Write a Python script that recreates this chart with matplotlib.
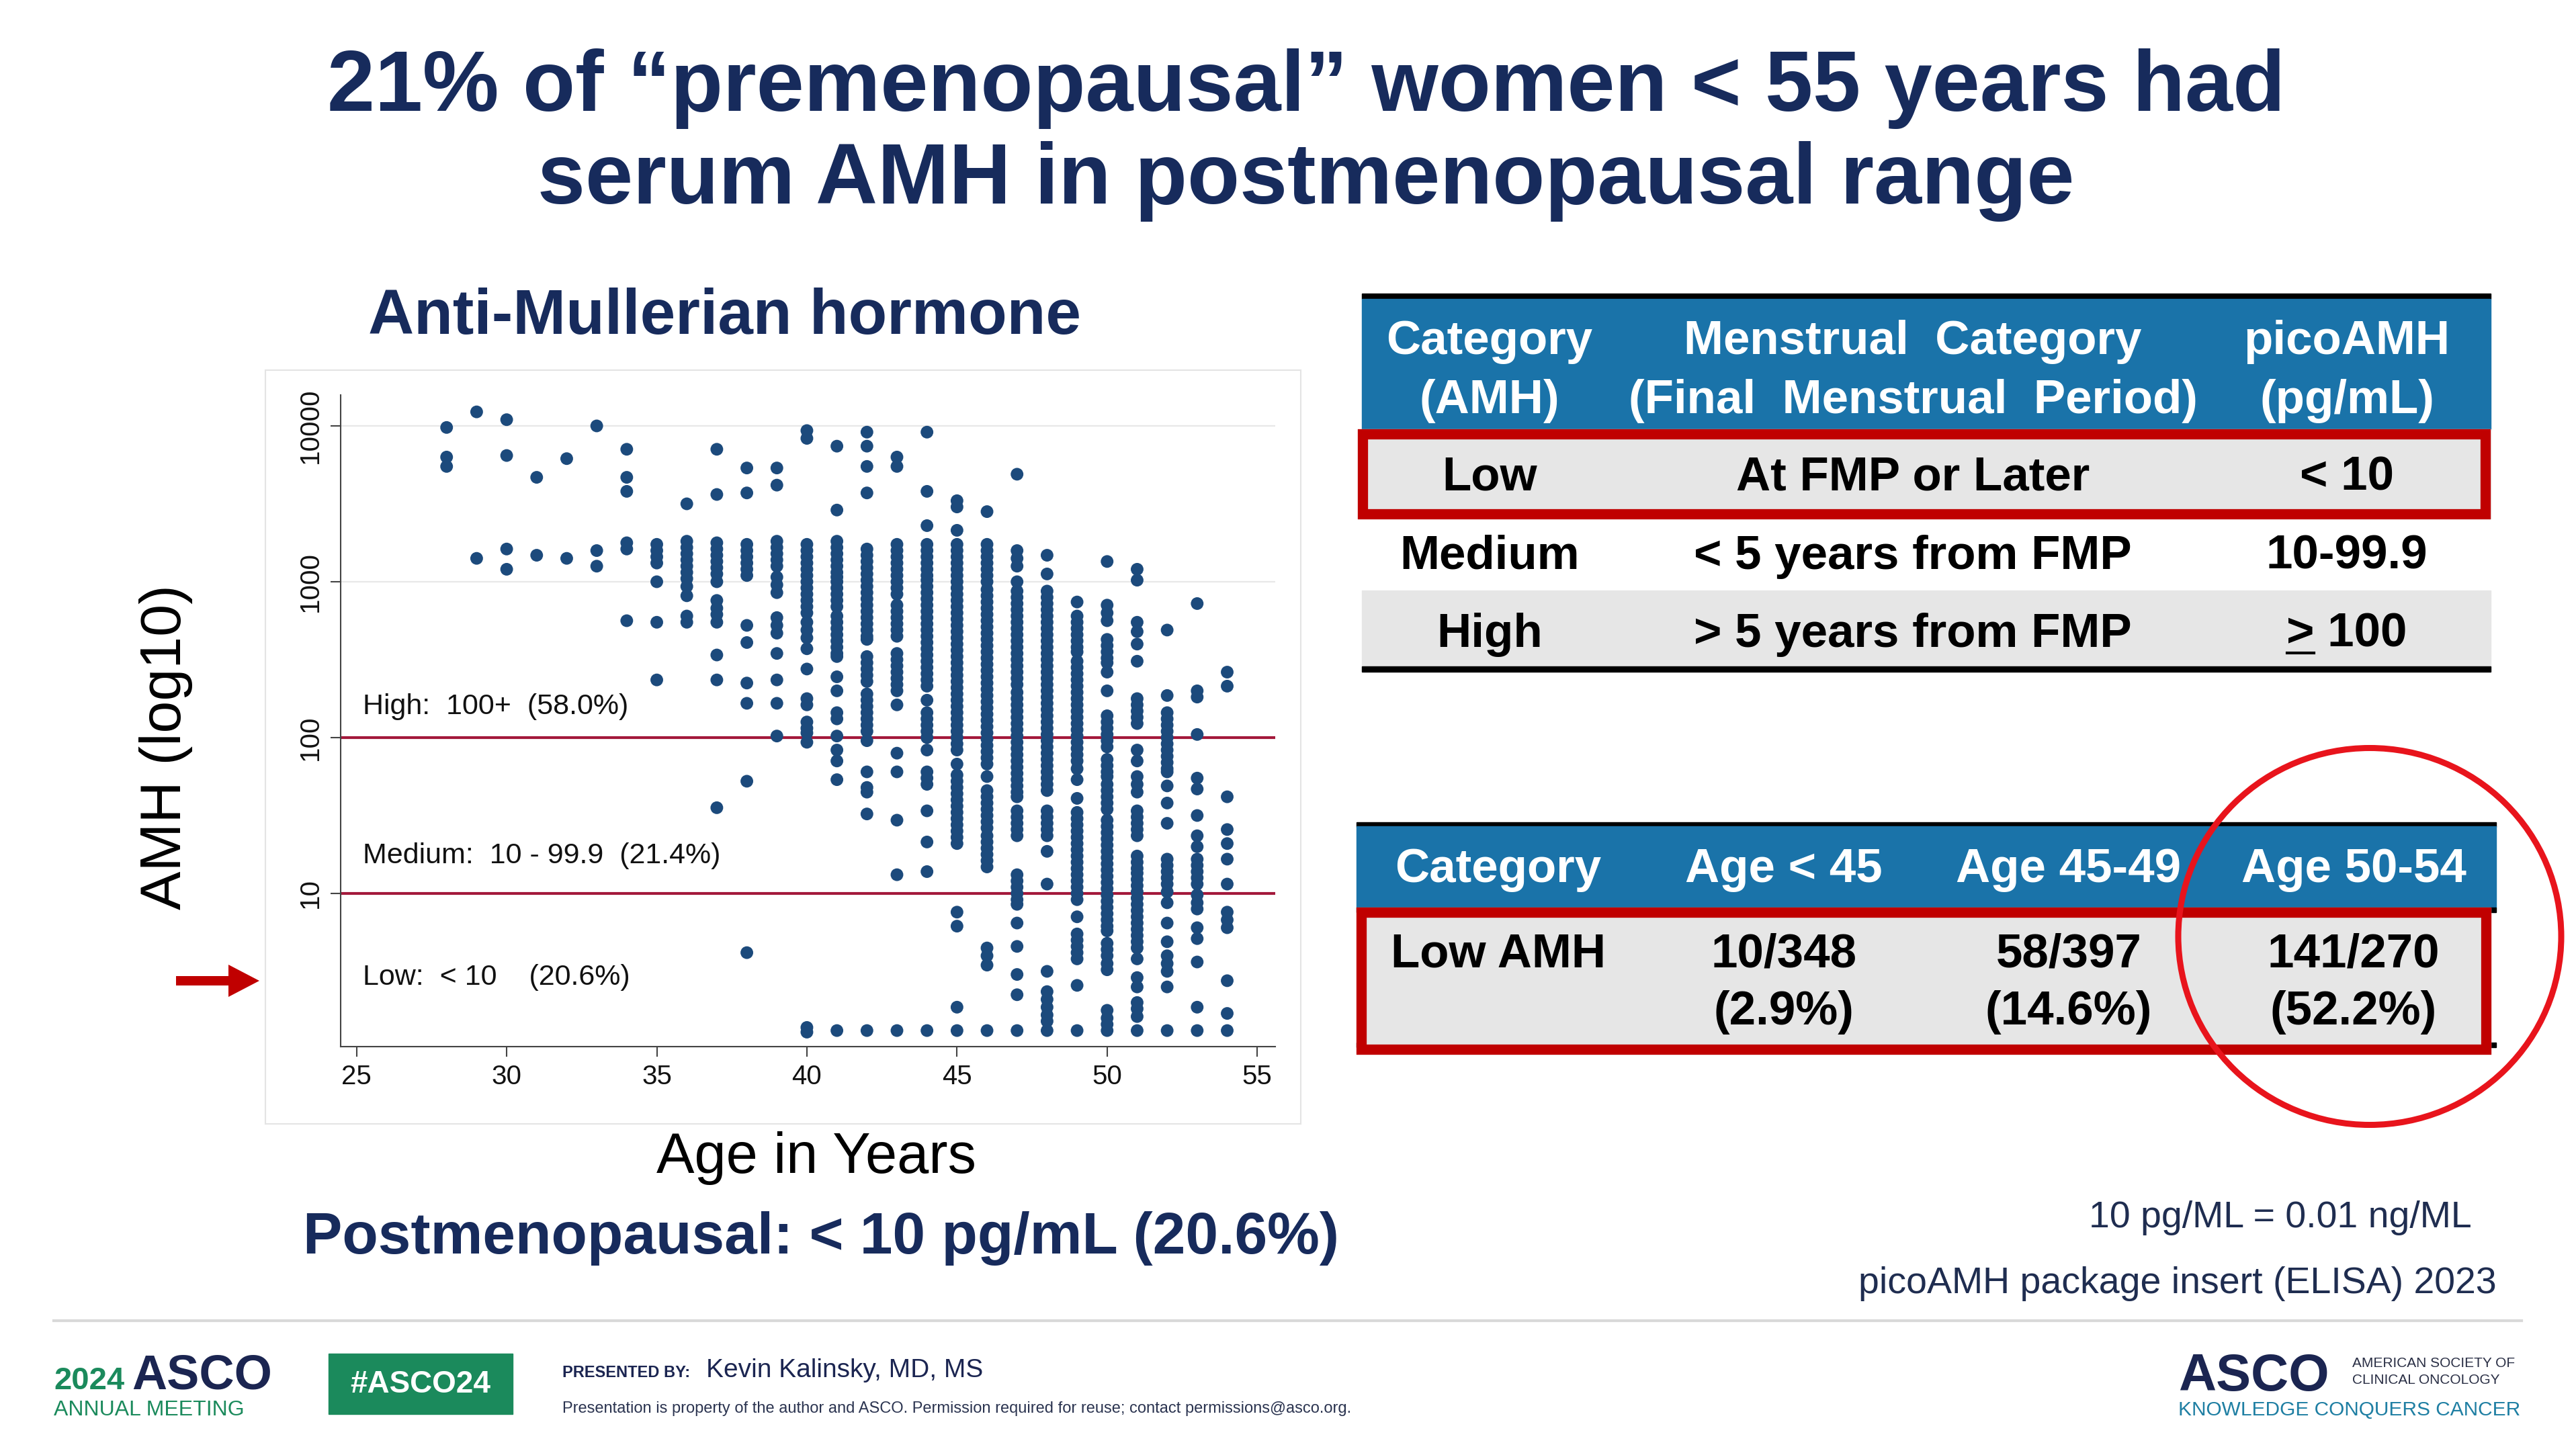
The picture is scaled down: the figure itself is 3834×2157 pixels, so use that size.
import numpy as np
import matplotlib.pyplot as plt
from matplotlib.patches import Rectangle, Ellipse, FancyArrow
from matplotlib.ticker import NullLocator

plt.rcParams['font.family'] = ['Liberation Sans', 'DejaVu Sans']

# log10 AMH (pg/mL) for each single year of age
log_amh_28 = [3.99, 3.80, 3.74]
log_amh_29 = [4.09, 3.15]
log_amh_30 = [4.04, 3.81, 3.21, 3.08]
log_amh_31 = [3.67, 3.17]
log_amh_32 = [3.79, 3.15]
log_amh_33 = [4.00, 3.20, 3.10]
log_amh_34 = [3.85, 3.67, 3.58, 3.25, 3.21, 2.75]
log_amh_35 = [3.24, 3.20, 3.16, 3.12, 3.00, 2.74, 2.37]
log_amh_36 = [3.50, 3.26, 3.22, 3.18, 3.14, 3.10, 3.06, 3.02, 2.97, 2.91, 2.78, 2.74]
log_amh_37 = [3.85, 3.56, 3.25, 3.21, 3.17, 3.13, 3.09, 3.05, 3.00, 2.88, 2.83, 2.79,
              2.74, 2.53, 2.37, 1.55]
log_amh_38 = [3.73, 3.57, 3.24, 3.20, 3.16, 3.12, 3.08, 3.04, 2.72, 2.61, 2.35, 2.22,
              1.72, 0.62]
log_amh_39 = [3.73, 3.62, 3.26, 3.22, 3.18, 3.14, 3.10, 3.03, 2.98, 2.93, 2.77, 2.72,
              2.67, 2.54, 2.37, 2.22, 2.01]
log_amh_40 = [3.97, 3.92, 3.24, 3.20, 3.16, 3.12, 3.08, 3.04, 3.00, 2.96, 2.92, 2.88,
              2.84, 2.80, 2.74, 2.69, 2.64, 2.57, 2.44, 2.25, 2.21, 2.10, 2.06, 2.03,
              1.97, 0.14, 0.11]
log_amh_41 = [3.87, 3.46, 3.26, 3.22, 3.18, 3.14, 3.10, 3.06, 3.03, 3.00, 2.96, 2.92,
              2.88, 2.84, 2.78, 2.74, 2.70, 2.66, 2.62, 2.58, 2.54, 2.52, 2.39, 2.30,
              2.16, 2.12, 2.01, 1.92, 1.85, 1.73, 0.12]
log_amh_42 = [3.96, 3.87, 3.74, 3.57, 3.21, 3.17, 3.13, 3.09, 3.05, 3.01, 2.97, 2.93,
              2.89, 2.85, 2.81, 2.77, 2.73, 2.69, 2.65, 2.63, 2.52, 2.48, 2.44, 2.40,
              2.36, 2.28, 2.24, 2.20, 2.16, 2.12, 2.08, 2.04, 1.98, 1.78, 1.68, 1.65,
              1.51, 0.12]
log_amh_43 = [3.80, 3.74, 3.24, 3.20, 3.16, 3.12, 3.08, 3.04, 3.00, 2.96, 2.92, 2.85,
              2.81, 2.77, 2.73, 2.69, 2.65, 2.54, 2.50, 2.46, 2.42, 2.38, 2.34, 2.30,
              2.21, 1.90, 1.78, 1.47, 1.12, 0.12]
log_amh_44 = [3.96, 3.58, 3.36, 3.24, 3.20, 3.16, 3.12, 3.08, 3.04, 3.01, 2.97, 2.93,
              2.89, 2.85, 2.81, 2.77, 2.73, 2.69, 2.65, 2.61, 2.57, 2.53, 2.49, 2.45,
              2.41, 2.37, 2.33, 2.24, 2.16, 2.12, 2.08, 2.04, 2.00, 1.92, 1.78, 1.74,
              1.70, 1.53, 1.33, 1.14, 0.12]
log_amh_45 = [3.52, 3.48, 3.33, 3.24, 3.20, 3.16, 3.12, 3.08, 3.04, 3.00, 2.96, 2.92,
              2.88, 2.84, 2.80, 2.76, 2.72, 2.68, 2.64, 2.60, 2.56, 2.52, 2.48, 2.44,
              2.40, 2.36, 2.32, 2.28, 2.24, 2.20, 2.16, 2.12, 2.08, 2.04, 2.00, 1.96,
              1.92, 1.83, 1.76, 1.72, 1.68, 1.64, 1.60, 1.56, 1.52, 1.48, 1.44, 1.40,
              1.36, 1.32, 0.88, 0.79, 0.27, 0.12]
log_amh_46 = [3.45, 3.24, 3.20, 3.16, 3.12, 3.08, 3.04, 3.00, 2.95, 2.91, 2.87, 2.83,
              2.79, 2.75, 2.71, 2.67, 2.63, 2.59, 2.55, 2.51, 2.47, 2.43, 2.39, 2.35,
              2.31, 2.27, 2.23, 2.19, 2.15, 2.11, 2.07, 2.03, 1.99, 1.95, 1.91, 1.87,
              1.83, 1.75, 1.66, 1.62, 1.58, 1.54, 1.50, 1.46, 1.42, 1.37, 1.33, 1.29,
              1.25, 1.21, 1.17, 0.65, 0.60, 0.54, 0.12]
log_amh_47 = [3.69, 3.20, 3.15, 3.10, 3.00, 2.94, 2.90, 2.86, 2.82, 2.78, 2.74, 2.70,
              2.66, 2.62, 2.58, 2.54, 2.50, 2.46, 2.42, 2.38, 2.34, 2.29, 2.25, 2.21,
              2.17, 2.13, 2.09, 2.05, 2.01, 1.97, 1.93, 1.89, 1.85, 1.81, 1.77, 1.73,
              1.69, 1.65, 1.62, 1.53, 1.49, 1.45, 1.41, 1.37, 1.12, 1.08, 1.04, 1.00,
              0.96, 0.93, 0.81, 0.66, 0.48, 0.35, 0.12]
log_amh_48 = [3.17, 3.05, 2.94, 2.90, 2.86, 2.82, 2.78, 2.74, 2.70, 2.66, 2.62, 2.58,
              2.54, 2.50, 2.46, 2.42, 2.38, 2.34, 2.30, 2.26, 2.22, 2.18, 2.14, 2.10,
              2.06, 2.02, 1.98, 1.94, 1.90, 1.86, 1.82, 1.78, 1.74, 1.70, 1.66, 1.53,
              1.49, 1.45, 1.41, 1.37, 1.27, 1.06, 0.50, 0.37, 0.32, 0.27, 0.22, 0.18,
              0.12]
log_amh_49 = [2.87, 2.78, 2.74, 2.70, 2.66, 2.62, 2.58, 2.55, 2.49, 2.45, 2.41, 2.37,
              2.33, 2.29, 2.25, 2.21, 2.17, 2.13, 2.09, 2.05, 2.01, 1.97, 1.93, 1.89,
              1.85, 1.80, 1.73, 1.61, 1.52, 1.48, 1.44, 1.40, 1.36, 1.32, 1.28, 1.24,
              1.20, 1.16, 1.12, 1.08, 1.04, 1.00, 0.96, 0.85, 0.74, 0.70, 0.66, 0.62,
              0.58, 0.41, 0.12]
log_amh_50 = [3.13, 2.85, 2.80, 2.75, 2.63, 2.59, 2.55, 2.51, 2.48, 2.42, 2.30, 2.14,
              2.10, 2.06, 2.02, 1.98, 1.94, 1.86, 1.82, 1.78, 1.75, 1.70, 1.66, 1.62,
              1.58, 1.54, 1.47, 1.43, 1.39, 1.35, 1.31, 1.27, 1.23, 1.19, 1.15, 1.11,
              1.07, 1.03, 0.99, 0.95, 0.91, 0.87, 0.83, 0.79, 0.76, 0.68, 0.64, 0.60,
              0.55, 0.51, 0.25, 0.20, 0.16, 0.12]
log_amh_51 = [3.08, 3.01, 2.74, 2.68, 2.60, 2.49, 2.25, 2.21, 2.17, 2.13, 2.09, 1.92,
              1.85, 1.75, 1.70, 1.65, 1.53, 1.49, 1.45, 1.41, 1.37, 1.24, 1.20, 1.16,
              1.13, 1.09, 1.05, 1.01, 0.97, 0.93, 0.89, 0.85, 0.81, 0.77, 0.73, 0.69,
              0.65, 0.58, 0.46, 0.40, 0.30, 0.26, 0.21, 0.12]
log_amh_52 = [2.69, 2.27, 2.16, 2.12, 2.08, 2.04, 2.00, 1.96, 1.92, 1.88, 1.84, 1.80,
              1.78, 1.69, 1.58, 1.45, 1.22, 1.18, 1.14, 1.10, 1.06, 1.01, 0.94, 0.81,
              0.69, 0.60, 0.55, 0.50, 0.40, 0.12]
log_amh_53 = [2.86, 2.30, 2.26, 2.02, 1.74, 1.67, 1.50, 1.37, 1.30, 1.22, 1.18, 1.14,
              1.10, 1.06, 0.99, 0.94, 0.90, 0.78, 0.71, 0.56, 0.27, 0.12]
log_amh_54 = [2.42, 2.33, 1.62, 1.41, 1.32, 1.22, 1.06, 0.88, 0.83, 0.78, 0.44, 0.23,
              0.12]

ages = list(range(28, 55))
log_amh = [log_amh_28, log_amh_29, log_amh_30, log_amh_31, log_amh_32, log_amh_33,
           log_amh_34, log_amh_35, log_amh_36, log_amh_37, log_amh_38, log_amh_39,
           log_amh_40, log_amh_41, log_amh_42, log_amh_43, log_amh_44, log_amh_45,
           log_amh_46, log_amh_47, log_amh_48, log_amh_49, log_amh_50, log_amh_51,
           log_amh_52, log_amh_53, log_amh_54]

# category cut-offs (pg/mL) and their labels
cutoffs = [10, 100]
band_labels = ["High:  100+  (58.0%)", "Medium:  10 - 99.9  (21.4%)", "Low:  < 10    (20.6%)"]
band_label_at = [158, 17.5, 2.9]

y_ticks = [10, 100, 1000, 10000]
x_ticks = [25, 30, 35, 40, 45, 50, 55]

# tables
tbl1_head_1 = ["Category", "Menstrual  Category", "picoAMH"]
tbl1_head_2 = ["(AMH)", "(Final  Menstrual  Period)", "(pg/mL)"]
tbl1_rows = [["Low", "At FMP or Later", "< 10"],
             ["Medium", "< 5 years from FMP", "10-99.9"],
             ["High", "> 5 years from FMP", "> 100"]]
tbl2_head = ["Category", "Age < 45", "Age 45-49", "Age 50-54"]
low_amh_counts = ["10/348", "58/397", "141/270"]
low_amh_pct = ["(2.9%)", "(14.6%)", "(52.2%)"]

NAVY = '#172b5c'
DOT = '#1c4a7c'
RED = '#c00000'
BLUE = '#1a73a9'
GREY = '#e6e6e6'

W, H = 3834, 2157
PX = 100 / 72

fig = plt.figure(figsize=(W / 100, H / 100), dpi=100)
bg = fig.add_axes([0, 0, 1, 1])
bg.set_xlim(0, W)
bg.set_ylim(H, 0)
bg.axis('off')


def cap_text(x, y, s, size, **kw):
    # y = middle of the capitals, in slide pixels
    bg.text(x, y + 0.36 * size * PX, s, fontsize=size, va='baseline', **kw)


# titles
cap_text(1944, 119, "21% of \u201cpremenopausal\u201d women < 55 years had", 92,
         ha='center', color=NAVY, weight='bold')
cap_text(1944, 257, "serum AMH in postmenopausal range", 92,
         ha='center', color=NAVY, weight='bold')
cap_text(1078, 463, "Anti-Mullerian hormone", 68, ha='center', color=NAVY, weight='bold')
cap_text(1222, 1834, "Postmenopausal: < 10 pg/mL (20.6%)", 63, ha='center',
         color=NAVY, weight='bold')

# scatter panel frame
bg.add_patch(Rectangle((395, 551), 1541, 1122, fill=False, ec='#e4e4e4', lw=1.5))

ax = fig.add_axes([507 / W, 1 - 1558 / H, (1898 - 507) / W, (1558 - 587.6) / H])
x = np.concatenate([[a] * len(v) for a, v in zip(ages, log_amh)])
y = 10 ** np.concatenate(log_amh)
ax.scatter(x, y, s=185, color=DOT, edgecolors='none', zorder=3)
ax.set_yscale('log')
ax.set_xlim(24.47, 55.6)
ax.set_ylim(10 ** 0.017, 10 ** 4.2)
for g in [1000, 10000]:
    ax.axhline(g, color='#e8e8e8', lw=1.6, zorder=1)
for c in cutoffs:
    ax.axhline(c, color='#a3193b', lw=3, zorder=2)
for lab, yy in zip(band_labels, band_label_at):
    ax.text(25.2, yy, lab, fontsize=31, va='center', color='#111111')

ax.set_yticks(y_ticks)
ax.set_yticklabels([str(t) for t in y_ticks], rotation=90, va='center')
ax.yaxis.set_minor_locator(NullLocator())
ax.set_xticks(x_ticks)
ax.tick_params(length=11, width=1.5, color='#444444', labelsize=29, pad=8,
               labelcolor='#111111')
for side in ['top', 'right']:
    ax.spines[side].set_visible(False)
for side in ['left', 'bottom']:
    ax.spines[side].set_color('#444444')
    ax.spines[side].set_linewidth(1.5)
ax.set_facecolor('none')

bg.text(247, 1112, "AMH (log10)", fontsize=62, rotation=90, ha='center', va='center')
cap_text(1215, 1716, "Age in Years", 61, ha='center')

bg.add_patch(FancyArrow(262, 1460, 124, 0, width=14, head_width=48, head_length=46,
                        length_includes_head=True, color=RED, lw=0))

# table 1
bg.add_patch(Rectangle((2027, 437), 1680, 8, color='black'))
bg.add_patch(Rectangle((2027, 445), 1680, 195, color=BLUE))
bg.add_patch(Rectangle((2021, 639), 1686, 133, color=GREY))
bg.add_patch(Rectangle((2028, 646), 1671, 119, fill=False, ec=RED, lw=11))
bg.add_patch(Rectangle((2027, 879), 1680, 113, color=GREY))
bg.add_patch(Rectangle((2027, 992), 1680, 8, color='black'))
col1 = [2217, 2847, 3493]
for cx, h1, h2 in zip(col1, tbl1_head_1, tbl1_head_2):
    cap_text(cx, 502, h1, 51, ha='center', color='white', weight='bold')
    cap_text(cx, 590, h2, 51, ha='center', color='white', weight='bold')
for ry, row in zip([704, 821, 937], tbl1_rows):
    for cx, s in zip(col1, row):
        cap_text(cx, ry, s, 51, ha='center', color='black', weight='bold')
bg.plot([3404, 3444], [972, 972], color='black', lw=3)

# table 2
bg.add_patch(Rectangle((2019, 1224), 1696, 7, color='black'))
bg.add_patch(Rectangle((2019, 1230), 1696, 121, color=BLUE))
bg.add_patch(Rectangle((2019, 1351), 1696, 7, color='black'))
bg.add_patch(Rectangle((2019, 1552), 1696, 7, color='black'))
bg.add_patch(Rectangle((2019, 1351), 1688, 218, color=GREY))
bg.add_patch(Rectangle((2026, 1358), 1674, 204, fill=False, ec=RED, lw=11))
col2 = [2230, 2655, 3079, 3503]
for cx, s in zip(col2, tbl2_head):
    cap_text(cx, 1288, s, 51, ha='center', color='white', weight='bold')
cap_text(col2[0], 1414, "Low AMH", 51, ha='center', weight='bold')
for cx, n, p in zip(col2[1:], low_amh_counts, low_amh_pct):
    cap_text(cx, 1414, n, 51, ha='center', weight='bold')
    cap_text(cx, 1500, p, 51, ha='center', weight='bold')

bg.add_patch(Ellipse((3527, 1394), 570, 561, fill=False, ec='#e8141c', lw=6.5))

cap_text(3394, 1807, "10 pg/ML = 0.01 ng/ML", 40, ha='center', color='#1f2d50')
cap_text(3241, 1905, "picoAMH package insert (ELISA) 2023", 40, ha='center', color='#1f2d50')

# footer
bg.plot([80, 3753], [1966, 1966], color='#d9d9d9', lw=3)
GREEN = '#1b8a5c'
bg.text(80, 2068, "2024", fontsize=34, weight='bold', color=GREEN, va='baseline')
bg.text(196, 2068, "ASCO", fontsize=52, weight='bold', color='#1b2551', va='baseline')
bg.text(80, 2107, "ANNUAL MEETING", fontsize=23, color=GREEN, va='baseline')
bg.add_patch(Rectangle((489, 2015), 274, 90, color=GREEN))
bg.text(626, 2061, "#ASCO24", fontsize=33, weight='bold', color='white',
        ha='center', va='center')
bg.text(837, 2050, "PRESENTED BY:", fontsize=17, weight='bold', color='#1b2551',
        va='baseline')
bg.text(1051, 2050, "Kevin Kalinsky, MD, MS", fontsize=28, color='#1b2551', va='baseline')
bg.text(837, 2103, "Presentation is property of the author and ASCO. Permission required "
        "for reuse; contact permissions@asco.org.", fontsize=17, color='#2b3450',
        va='baseline')
bg.text(3242, 2070, "ASCO", fontsize=56, weight='bold', color='#1b2551', va='baseline')
bg.text(3501, 2035, "AMERICAN SOCIETY OF", fontsize=15, color='#2a2f45', va='baseline')
bg.text(3501, 2060, "CLINICAL ONCOLOGY", fontsize=15, color='#2a2f45', va='baseline')
bg.text(3242, 2107, "KNOWLEDGE CONQUERS CANCER", fontsize=21.5, color='#1f7fa3',
        va='baseline')

fig.savefig('out.png', dpi=100)
